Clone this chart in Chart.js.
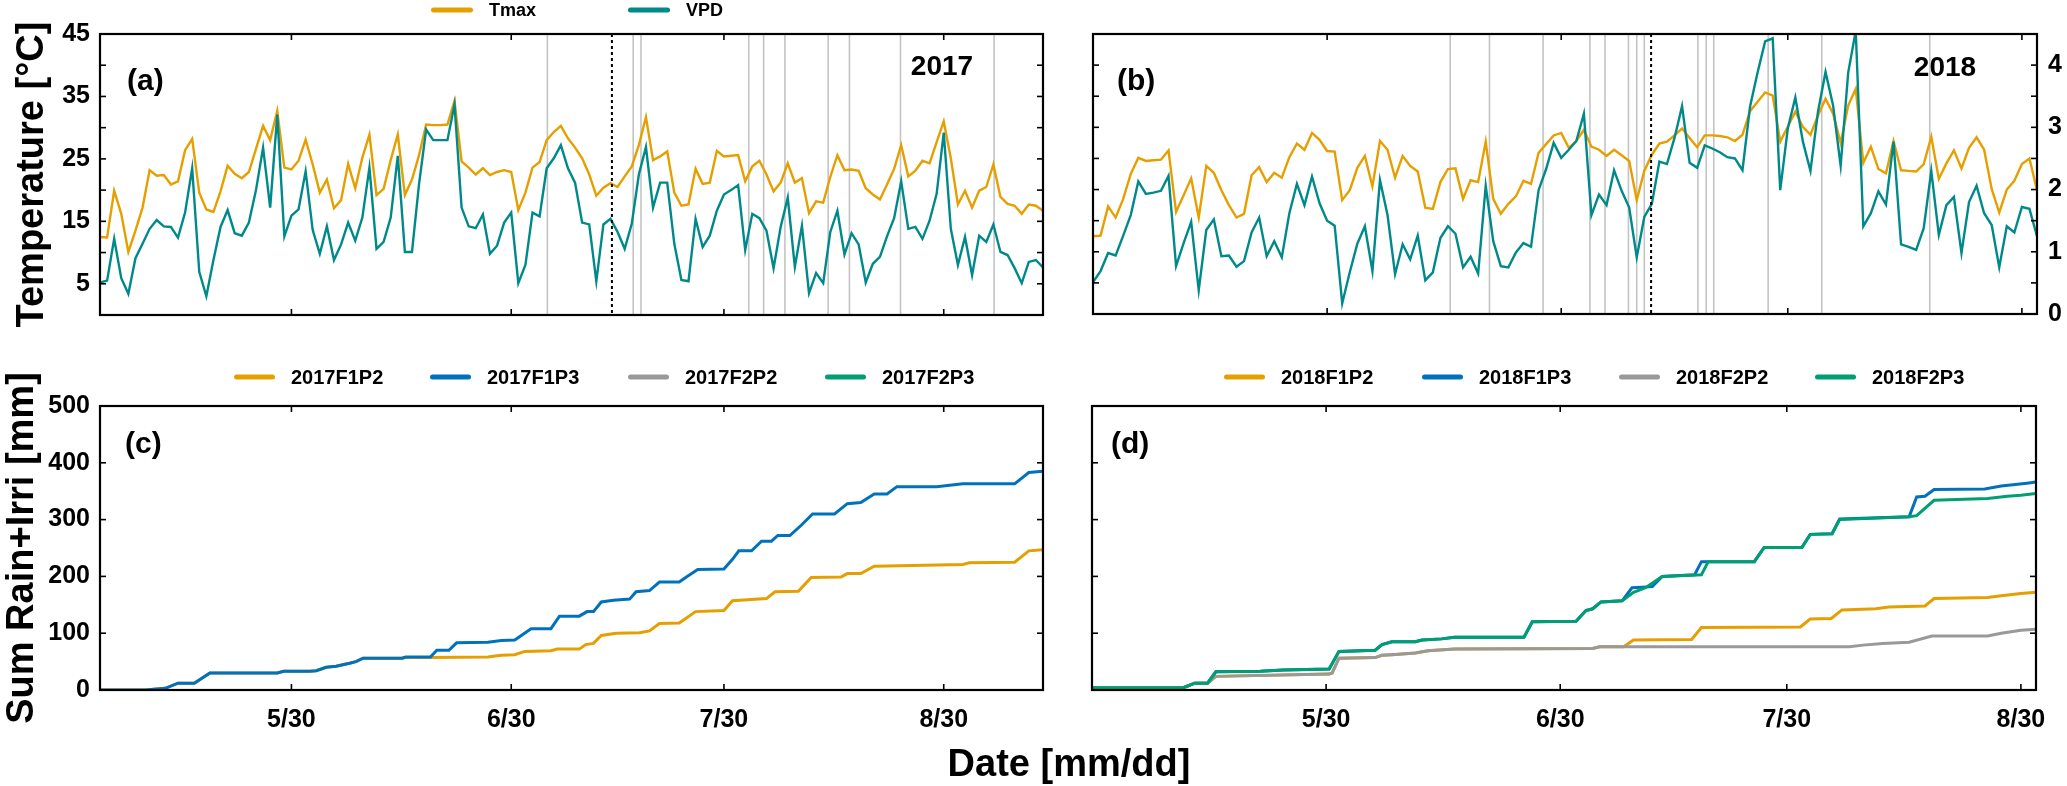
<!DOCTYPE html>
<html><head><meta charset="utf-8">
<script src="https://cdn.jsdelivr.net/npm/chart.js@4.4.1/dist/chart.umd.min.js"></script>
<style>
html,body{margin:0;padding:0;background:#fff;}
#wrap{position:relative;width:2067px;height:786px;overflow:hidden;background:#fff;}
canvas{position:absolute;}
#xtitle{position:absolute;left:0;width:2138px;text-align:center;top:744px;font-family:'Liberation Sans',Arial,sans-serif;font-weight:bold;font-size:38px;line-height:38px;color:#000;white-space:nowrap;}
</style></head>
<body>
<div id="wrap">
<canvas id="cA" width="1068" height="340" style="left:0;top:0;width:1068px;height:340px"></canvas>
<canvas id="cB" width="999" height="340" style="left:1068px;top:0;width:999px;height:340px"></canvas>
<canvas id="cC" width="1068" height="446" style="left:0;top:340px;width:1068px;height:446px"></canvas>
<canvas id="cD" width="999" height="446" style="left:1068px;top:340px;width:999px;height:446px"></canvas>
<div id="xtitle">Date [mm/dd]</div>
</div>
<script>
const FONT = "'Liberation Sans', Arial, sans-serif";
Chart.defaults.font.family = FONT;
Chart.defaults.color = '#000';

// ---------- x axis (day of year) ----------
const tickDays = [150, 181, 211, 242];
const tickLabels = ['5/30', '6/30', '7/30', '8/30'];
const start2017 = 123, end2017 = 256;
const start2018 = 119, end2018 = 244;

// ---------- daily Tmax [°C] and VPD [kPa] ----------
const tmax2017 = [12.5,12.4,19.9,16.2,10.1,13.5,17.2,23.2,22.3,22.4,20.9,21.4,26.4,28.2,19.6,16.9,16.5,19.8,23.9,22.6,21.9,22.9,26.6,30.3,28.0,32.7,23.6,23.3,24.7,28.1,24.1,19.6,21.7,17.1,18.4,24.2,20.3,25.2,28.9,19.2,20.2,24.8,28.9,19.2,21.7,25.6,30.5,30.4,30.4,30.5,34.3,24.6,23.6,22.5,23.5,22.4,22.9,23.2,22.9,16.8,19.6,23.6,24.5,28.0,29.3,30.3,28.3,26.8,25.1,22.5,19.1,20.4,21.1,20.5,22.2,23.8,27.2,31.7,24.8,25.4,26.2,19.6,17.5,17.7,23.4,21.0,21.2,26.3,25.4,25.5,25.6,21.4,23.8,24.7,22.5,19.8,21.2,24.3,21.2,21.9,16.3,18.2,18.0,22.1,25.6,23.2,23.3,23.1,20.3,19.3,18.5,20.9,23.4,27.2,22.2,23.1,24.7,24.3,27.7,31.0,25.1,17.7,19.9,17.2,19.9,20.5,24.1,18.9,17.8,17.5,16.2,17.7,17.5,16.7];
const vpd2017 = [0.52,0.55,1.22,0.59,0.34,0.91,1.14,1.38,1.52,1.42,1.41,1.24,1.64,2.35,0.69,0.30,0.88,1.41,1.68,1.31,1.27,1.48,2.00,2.68,1.72,3.21,1.26,1.59,1.69,2.30,1.36,0.98,1.42,0.88,1.13,1.48,1.19,1.56,2.36,1.06,1.17,1.56,2.55,1.01,1.01,2.10,2.97,2.80,2.80,2.80,3.37,1.72,1.42,1.39,1.61,0.98,1.11,1.48,1.64,0.51,0.80,1.64,1.58,2.35,2.51,2.72,2.35,2.12,1.48,1.45,0.54,1.45,1.54,1.33,1.06,1.46,2.25,2.69,1.72,2.12,2.12,1.14,0.56,0.54,1.54,1.09,1.27,1.67,1.93,2.00,2.08,1.04,1.62,1.55,1.35,0.75,1.41,1.88,0.77,1.43,0.35,0.67,0.51,1.33,1.67,0.97,1.31,1.13,0.52,0.82,0.93,1.26,1.55,2.14,1.38,1.41,1.22,1.51,1.94,2.92,1.38,0.80,1.25,0.64,1.27,1.17,1.45,1.01,0.96,0.75,0.51,0.85,0.88,0.76];
const tmax2018 = [12.5,12.6,17.3,15.5,18.5,22.5,25.1,24.6,24.7,24.8,26.3,16.4,19.1,21.8,15.5,23.8,22.7,19.9,17.5,15.5,16.1,22.3,23.6,21.2,22.7,21.9,25.2,27.4,26.4,29.1,28.0,26.2,26.1,18.3,19.9,23.5,25.4,20.5,27.8,26.4,21.9,25.4,23.8,22.9,17.1,16.9,21.2,23.3,23.4,18.5,21.5,21.2,27.7,18.5,16.1,17.7,18.9,21.4,20.9,25.9,27.3,28.7,29.1,26.7,27.8,29.6,26.9,26.4,25.4,26.4,25.5,24.6,18.3,23.0,25.6,27.4,27.7,28.7,29.8,28.3,26.8,28.7,28.7,28.6,28.4,27.8,28.8,32.6,34.1,35.6,35.1,27.7,30.1,32.5,30.1,28.8,31.9,34.6,32.2,27.5,33.5,36.2,24.3,26.9,23.3,22.6,27.8,23.1,23.0,22.9,24.1,28.5,21.7,24.2,26.3,23.4,26.7,28.4,26.4,20.1,16.3,20.0,21.4,24.1,25.0,19.9];
const vpd2018 = [0.51,0.69,0.98,0.94,1.26,1.59,2.13,1.93,1.95,1.98,2.22,0.77,1.14,1.48,0.38,1.35,1.52,0.93,0.94,0.76,0.85,1.31,1.55,0.93,1.17,0.91,1.62,2.09,1.75,2.21,1.78,1.50,1.42,0.17,0.67,1.13,1.41,0.69,2.15,1.59,0.64,1.12,0.88,1.26,0.54,0.67,1.22,1.41,1.29,0.75,0.92,0.65,2.06,1.17,0.77,0.75,0.99,1.14,1.08,1.99,2.33,2.75,2.51,2.64,2.78,3.22,1.59,1.92,1.75,2.31,1.98,1.71,0.91,1.56,1.77,2.45,2.41,2.83,3.34,2.43,2.35,2.71,2.66,2.60,2.52,2.50,2.31,3.33,3.88,4.38,4.43,1.99,2.98,3.48,2.77,2.30,3.25,3.89,3.35,2.38,3.88,4.55,1.41,1.62,1.97,1.76,2.77,1.12,1.08,1.03,1.38,2.30,1.27,1.75,1.88,0.98,1.80,2.06,1.62,1.43,0.75,1.41,1.31,1.72,1.69,1.25];

// ---------- event lines (day of year) ----------
const events2017 = [186.1, 198.2, 199.3, 214.5, 216.6, 219.6, 225.7, 228.7, 235.9, 249.1];
const split2017 = 195.2;
const events2018 = [166.3, 171.5, 178.6, 184.8, 186.8, 189.9, 191.0, 192.0, 199.1, 200.2, 201.2, 208.4, 215.5, 229.8];
const split2018 = 192.9;

// ---------- cumulative rain + irrigation [mm] (breakpoints) ----------
const p2_2017_day = [123,129.4,132.2,134.0,136.3,138.5,148.0,148.9,152.6,153.5,154.9,156.3,158.2,159.1,160.1,165.6,166.1,169.6,177.7,179.6,181.5,182.9,186.6,187.5,190.6,191.5,192.6,193.7,195.8,199.1,200.5,201.9,204.7,207.0,211.0,212.2,217.0,218.2,221.5,223.3,227.5,228.4,230.3,232.2,244.7,245.6,252.0,254.0,256];
const p2_2017_val = [0,0,3,12,12,30,30,33,33,34,40,42,47,50,56,56,57,57,58,61,62,68,69,72,72,80,82,96,100,101,104,117,118,138,140,157,161,173,174,198,199,205,205,218,221,224,225,245,247];
const p3_2017_day = [123,129.4,132.2,134.0,136.3,138.5,148.0,148.9,152.6,153.5,154.9,156.3,158.2,159.1,160.1,165.6,166.1,169.6,170.5,172.2,173.3,177.7,179.6,181.5,183.8,186.6,187.8,190.6,191.7,192.6,193.7,195.4,197.7,198.6,200.5,201.9,204.7,205.6,207.3,211.0,212.2,213.1,214.9,216.3,217.7,218.6,220.3,221.9,223.5,226.6,228.4,230.3,232.2,234.0,235.4,241.0,244.7,252.0,254.0,256];
const p3_2017_val = [0,0,3,12,12,30,30,33,33,34,40,42,47,50,56,56,58,58,70,70,83,84,87,88,108,108,130,130,138,138,155,158,160,173,175,190,190,198,212,213,230,245,245,262,262,272,272,290,310,310,328,330,345,345,358,358,363,363,383,385];
const f2p2_2017_day = [], f2p2_2017_val = [];
const f2p3_2017_day = [], f2p3_2017_val = [];

const p2_2018_day = [119,131.1,132.6,134.3,135.4,150.4,150.8,151.7,156.5,157.4,158.7,161.8,163.5,167.0,185.3,186.2,189.4,190.7,198.4,199.7,212.8,214.1,216.9,218.3,222.8,224.5,229.3,230.5,237.6,239.4,242.0,244];
const p2_2018_val = [4,4,12,12,24,28,30,56,57,61,62,65,69,72,73,76,76,88,89,110,111,125,126,141,143,146,148,161,163,166,170,172];
const p3_2018_day = [119,131.1,132.6,134.3,135.4,141.3,144.3,150.4,151.7,156.5,157.4,158.7,161.8,162.7,165.3,167.0,176.2,177.3,183.1,184.4,185.3,186.4,189.2,190.5,193.2,194.5,198.8,199.7,206.7,208.0,213.0,214.1,217.0,218.0,227.2,228.2,229.3,230.5,237.2,239.4,242.8,244];
const p3_2018_val = [4,4,12,12,32,33,35,37,68,70,80,85,85,88,90,93,93,120,121,140,143,155,157,180,182,200,203,226,226,251,251,274,275,301,305,340,341,353,354,359,364,366];
const f2p2_2018_day = [119,131.1,132.6,134.3,135.4,150.4,150.8,151.7,156.5,157.4,158.7,161.8,163.5,167.0,185.3,186.2,219.3,221.1,223.7,227.2,230.2,237.6,239.4,242.0,244];
const f2p2_2018_val = [4,4,12,12,24,28,30,56,57,61,62,65,69,72,73,76,76,79,82,84,95,95,100,105,107];
const f2p3_2018_day = [119,131.1,132.6,134.3,135.4,141.3,144.3,150.4,151.7,156.5,157.4,158.7,161.8,162.7,165.3,167.0,176.2,177.3,183.1,184.4,185.3,186.4,189.2,190.7,192.3,194.5,199.7,200.6,206.7,208.0,213.0,214.1,217.0,218.0,227.2,228.2,230.5,237.6,240.2,242.0,244];
const f2p3_2018_val = [4,4,12,12,32,33,35,37,68,70,80,85,85,88,90,93,93,120,121,140,143,155,157,172,180,200,203,226,226,251,251,274,275,300,305,307,334,337,341,343,346];

// ---------- helpers ----------
const COL = {tmax:'#E69F00', vpd:'#00898A', p2:'#E69F00', p3:'#0072BD', f2p2:'#999999', f2p3:'#009E73', ev:'#c4c4c4'};
const daily = (arr, start) => arr.map((v, i) => ({x: start + i, y: v}));
const steps = (days, vals) => days.map((d, i) => ({x: d, y: vals[i]}));

function xScale(pos, min, max, show, h) {
  return {
    type: 'linear', position: pos, min: min, max: max,
    afterBuildTicks: s => { s.ticks = tickDays.map(v => ({value: v})); },
    afterFit: s => { s.height = h; },
    grid: {display: false, drawTicks: false}, border: {display: false},
    ticks: {display: show, autoSkip: false, maxRotation: 0, minRotation: 0, padding: 15,
      font: {size: 25, weight: 'bold'},
      callback: v => { const k = tickDays.indexOf(v); return k >= 0 ? tickLabels[k] : ''; }}
  };
}
function yScale(pos, min, max, step, w, show, labelFn, title, titlePad) {
  return {
    type: 'linear', position: pos, min: min, max: max,
    afterFit: s => { s.width = w; },
    grid: {display: false, drawTicks: false}, border: {display: false},
    ticks: {display: show, stepSize: step, autoSkip: false, padding: pos === 'left' ? 10 : 11,
      font: {size: 25, weight: 'bold'}, callback: labelFn || (v => v)},
    title: {display: !!title, text: title || '', font: {size: 38, weight: 'bold'},
      padding: {top: titlePad || 0, bottom: 0}}
  };
}

const frameTicks = {
  id: 'frameTicks',
  afterDraw(chart, args, o) {
    const {ctx, chartArea: a, scales} = chart;
    const L = o.len || 6;
    ctx.save();
    ctx.strokeStyle = '#000';
    ctx.lineWidth = 1.6;
    ['x', 'x2'].forEach(id => {
      const s = scales[id]; if (!s) return;
      const top = s.position === 'top';
      s.ticks.forEach(t => {
        const px = s.getPixelForValue(t.value);
        ctx.beginPath();
        ctx.moveTo(px, top ? a.top : a.bottom);
        ctx.lineTo(px, top ? a.top + L : a.bottom - L);
        ctx.stroke();
      });
    });
    ['y', 'y1'].forEach(id => {
      const s = scales[id]; if (!s) return;
      const left = s.position === 'left';
      s.ticks.forEach(t => {
        const py = s.getPixelForValue(t.value);
        ctx.beginPath();
        ctx.moveTo(left ? a.left : a.right, py);
        ctx.lineTo(left ? a.left + L : a.right - L, py);
        ctx.stroke();
      });
    });
    ctx.lineWidth = 2.2;
    ctx.strokeRect(a.left, a.top, a.right - a.left, a.bottom - a.top);
    ctx.restore();
  }
};

const eventLines = {
  id: 'eventLines',
  beforeDatasetsDraw(chart, args, o) {
    if (!o.days) return;
    const {ctx, chartArea: a, scales: {x}} = chart;
    ctx.save();
    ctx.strokeStyle = COL.ev; ctx.lineWidth = 1.6;
    o.days.forEach(d => {
      const px = x.getPixelForValue(d);
      ctx.beginPath(); ctx.moveTo(px, a.top); ctx.lineTo(px, a.bottom); ctx.stroke();
    });
    ctx.restore();
  },
  afterDatasetsDraw(chart, args, o) {
    if (o.split == null) return;
    const {ctx, chartArea: a, scales: {x}} = chart;
    const px = x.getPixelForValue(o.split);
    ctx.save();
    ctx.strokeStyle = '#000'; ctx.lineWidth = 2; ctx.setLineDash([3, 3]);
    ctx.beginPath(); ctx.moveTo(px, a.top); ctx.lineTo(px, a.bottom); ctx.stroke();
    ctx.restore();
  }
};

const lineLegend = {
  id: 'lineLegend',
  afterDraw(chart, args, o) {
    if (!o.xs) return;
    const ctx = chart.ctx;
    ctx.save();
    ctx.font = 'bold ' + o.size + 'px ' + FONT;
    ctx.textBaseline = 'middle'; ctx.textAlign = 'left';
    chart.data.datasets.forEach((ds, i) => {
      const x = o.xs[i]; if (x == null) return;
      ctx.strokeStyle = ds.borderColor; ctx.lineWidth = 5; ctx.lineCap = 'round';
      ctx.beginPath(); ctx.moveTo(x + 2.5, o.y); ctx.lineTo(x + o.len - 2.5, o.y); ctx.stroke();
      ctx.fillStyle = '#000';
      ctx.fillText(ds.label, x + o.len + 16, o.y + 1);
    });
    ctx.restore();
  }
};

const panelText = {
  id: 'panelText',
  afterDraw(chart, args, o) {
    if (!o.items) return;
    const {ctx, chartArea: a} = chart;
    ctx.save();
    ctx.fillStyle = '#000'; ctx.textBaseline = 'middle';
    o.items.forEach(it => {
      ctx.font = 'bold ' + it.size + 'px ' + FONT;
      ctx.textAlign = it.align;
      const x = it.from === 'right' ? a.right + it.dx : a.left + it.dx;
      ctx.fillText(it.text, x, a.top + it.dy);
    });
    ctx.restore();
  }
};

const plugs = [frameTicks, eventLines, lineLegend, panelText];

function lineDs(label, data, color, width, axis, order) {
  return {label, data, borderColor: color, backgroundColor: color, borderWidth: width,
    pointRadius: 0, tension: 0, fill: false, yAxisID: axis, order: order};
}
function baseOpts(scales, plugins) {
  return {responsive: false, animation: false, events: [], layout: {padding: 0},
    scales: scales,
    plugins: Object.assign({legend: {display: false}, tooltip: {enabled: false}}, plugins)};
}

// ---------- (a) 2017 weather ----------
new Chart(document.getElementById('cA'), {
  type: 'line',
  data: {datasets: [
    lineDs('Tmax', daily(tmax2017, start2017), COL.tmax, 2.4, 'y', 2),
    lineDs('VPD', daily(vpd2017, start2017), COL.vpd, 2.4, 'y1', 1)
  ]},
  options: baseOpts({
    x: xScale('bottom', start2017, end2017, false, 21),
    x2: xScale('top', start2017, end2017, false, 34),
    y: yScale('left', 0, 45, 5, 100, true, v => (Math.round(v) % 10 === 5 ? v : ''), 'Temperature [°C]', 10),
    y1: yScale('right', 0, 4.5, 0.5, 25, false)
  }, {
    eventLines: {days: events2017, split: split2017},
    lineLegend: {xs: [431, 628], y: 10, len: 42, size: 18},
    panelText: {items: [
      {text: '(a)', from: 'left', dx: 27, dy: 48, size: 30, align: 'left'},
      {text: '2017', from: 'right', dx: -101, dy: 33, size: 28, align: 'center'}
    ]}
  }),
  plugins: plugs
});

// ---------- (b) 2018 weather ----------
new Chart(document.getElementById('cB'), {
  type: 'line',
  data: {datasets: [
    lineDs('Tmax', daily(tmax2018, start2018), COL.tmax, 2.4, 'y', 2),
    lineDs('VPD', daily(vpd2018, start2018), COL.vpd, 2.4, 'y1', 1)
  ]},
  options: baseOpts({
    x: xScale('bottom', start2018, end2018, false, 21),
    x2: xScale('top', start2018, end2018, false, 34),
    y: yScale('left', 0, 45, 5, 25, false),
    y1: yScale('right', 0, 4.5, 0.5, 30, true, v => (Number.isInteger(v) ? v : ''))
  }, {
    eventLines: {days: events2018, split: split2018},
    panelText: {items: [
      {text: '(b)', from: 'left', dx: 24, dy: 48, size: 30, align: 'left'},
      {text: '2018', from: 'right', dx: -92, dy: 34, size: 28, align: 'center'}
    ]}
  }),
  plugins: plugs
});

// ---------- (c) 2017 cumulative ----------
new Chart(document.getElementById('cC'), {
  type: 'line',
  data: {datasets: [
    lineDs('2017F1P2', steps(p2_2017_day, p2_2017_val), COL.p2, 3, 'y', 4),
    lineDs('2017F1P3', steps(p3_2017_day, p3_2017_val), COL.p3, 3, 'y', 3),
    lineDs('2017F2P2', steps(f2p2_2017_day, f2p2_2017_val), COL.f2p2, 3, 'y', 2),
    lineDs('2017F2P3', steps(f2p3_2017_day, f2p3_2017_val), COL.f2p3, 3, 'y', 1)
  ]},
  options: baseOpts({
    x: xScale('bottom', start2017, end2017, true, 96),
    x2: xScale('top', start2017, end2017, false, 66),
    y: yScale('left', 0, 500, 100, 100, true, null, 'Sum Rain+Irri [mm]', 0),
    y1: yScale('right', 0, 500, 100, 25, false)
  }, {
    lineLegend: {xs: [234, 430, 628, 825], y: 37, len: 41, size: 20},
    panelText: {items: [{text: '(c)', from: 'left', dx: 25, dy: 39, size: 30, align: 'left'}]}
  }),
  plugins: plugs
});

// ---------- (d) 2018 cumulative ----------
new Chart(document.getElementById('cD'), {
  type: 'line',
  data: {datasets: [
    lineDs('2018F1P2', steps(p2_2018_day, p2_2018_val), COL.p2, 3, 'y', 4),
    lineDs('2018F1P3', steps(p3_2018_day, p3_2018_val), COL.p3, 3, 'y', 3),
    lineDs('2018F2P2', steps(f2p2_2018_day, f2p2_2018_val), COL.f2p2, 3, 'y', 2),
    lineDs('2018F2P3', steps(f2p3_2018_day, f2p3_2018_val), COL.f2p3, 3, 'y', 1)
  ]},
  options: baseOpts({
    x: xScale('bottom', start2018, end2018, true, 96),
    x2: xScale('top', start2018, end2018, false, 66),
    y: yScale('left', 0, 500, 100, 24, false),
    y1: yScale('right', 0, 500, 100, 31, false)
  }, {
    lineLegend: {xs: [1224 - 1068, 1422 - 1068, 1619 - 1068, 1815 - 1068], y: 37, len: 41, size: 20},
    panelText: {items: [{text: '(d)', from: 'left', dx: 19, dy: 39, size: 30, align: 'left'}]}
  }),
  plugins: plugs
});
</script>
</body></html>
